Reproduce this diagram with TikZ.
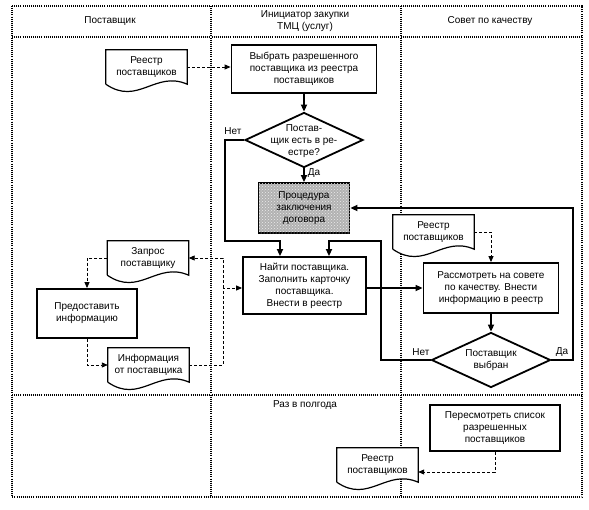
\documentclass[tikz,border=0pt]{standalone}
\usepackage{fontspec}
\setmainfont{Liberation Sans}
\usetikzlibrary{arrows.meta,shapes.geometric,patterns,calc,backgrounds}
\newcommand\docwave[1]{%
  \begin{pgfonlayer}{background}
  \draw[line width=1.2pt, fill=white] (#1.south west) -- (#1.north west) -- (#1.north east) -- (#1.south east)
    .. controls +(-32,-14) and +(32,22) .. (#1.south west);
  \end{pgfonlayer}}
\begin{document}
\begin{tikzpicture}[x=1pt,y=-1pt,
  font=\fontsize{10}{12}\selectfont,
  lane/.style={line width=1.2pt, dash pattern=on 1pt off 1.1pt},
  box/.style={draw, line width=1.8pt, align=center, inner sep=0pt, fill=white},
  dia/.style={draw, diamond, line width=1.8pt, inner sep=0pt, fill=white},
  doc/.style={align=center, inner sep=0pt, minimum width=81pt, minimum height=34pt},
  flow/.style={line width=1.6pt, -{Triangle[length=7pt,width=6pt]}},
  dflow/.style={line width=0.9pt, dash pattern=on 3pt off 2pt, -{Triangle[length=6pt,width=5pt]}},
  lbl/.style={inner sep=0pt},
]
\useasboundingbox (0,0) rectangle (589,509);
% lanes
\begin{pgfonlayer}{background}
\draw[lane] (12,6) rectangle (582,497);
\draw[lane] (12,37) -- (582,37);
\draw[lane] (12,395) -- (582,395);
\draw[lane] (211,6) -- (211,497);
\draw[lane] (401,6) -- (401,497);
\end{pgfonlayer}
% headers
\node[lbl] (h1) at (110,21) {Поставщик};
\node[lbl, align=center] (h2) at (305,21) {Инициатор закупки\\ТМЦ (услуг)};
\node[lbl] (h3) at (490,21) {Совет по качеству};
\node[lbl] (half) at (305,405) {Раз в полгода};
% documents
\node[doc] (r1) at (146.5,67) {Реестр\\поставщиков}; \docwave{r1}
\node[doc] (zq) at (148,258) {Запрос\\поставщику}; \docwave{zq}
\node[doc] (inf) at (148.5,365) {Информация\\от поставщика}; \docwave{inf}
\node[doc] (r2) at (433.5,232) {Реестр\\поставщиков}; \docwave{r2}
\node[doc] (r3) at (377.5,465) {Реестр\\поставщиков}; \docwave{r3}
% boxes
\node[box, minimum width=145pt, minimum height=48pt] (b1) at (304,69) {Выбрать разрешенного\\поставщика из реестра\\поставщиков};
\node[dia, minimum width=118pt, minimum height=55pt] (d1) at (304,140) {};
\node[lbl, align=center] (d1t) at (304,141) {Постав-\\щик есть в ре-\\естре?};
\node[box, minimum width=91pt, minimum height=50pt, fill=gray!60, postaction={pattern=crosshatch dots, pattern color=white!85!gray}] (pr) at (304,208) {Процедура\\заключения\\договора};
\node[box, minimum width=123pt, minimum height=57pt] (nf) at (304.5,285.5) {Найти поставщика.\\Заполнить карточку\\поставщика.\\Внести в реестр};
\node[box, minimum width=135pt, minimum height=50pt] (rs) at (491,288) {Рассмотреть на совете\\по качеству. Внести\\информацию в реестр};
\node[dia, minimum width=119pt, minimum height=55pt] (d2) at (491,360) {};
\node[lbl, align=center] (d2t) at (491,360) {Поставщик\\выбран};
\node[box, minimum width=100pt, minimum height=49pt] (pi) at (87,313.5) {Предоставить\\информацию};
\node[box, minimum width=130pt, minimum height=46pt] (pv) at (495,428) {Пересмотреть список\\разрешенных\\поставщиков};
% labels
\node[lbl] (n1) at (233,131) {Нет};
\node[lbl] (y1) at (314,173) {Да};
\node[lbl] (n2) at (421,352) {Нет};
\node[lbl] (y2) at (562,352) {Да};
% coordinates
\coordinate (nA) at (225,241);
\coordinate (cA) at (280,241);
\coordinate (cB) at (329,241);
\coordinate (nB) at (381,241);
\coordinate (yA) at (573,208);
\coordinate (j1) at (223,288);
% connectors
\draw[dflow] (r1.east) -- (r1.east -| b1.west);
\draw[flow] (b1.south) -- (d1.north);
\draw[flow] (d1.south) -- (pr.north);
\draw[flow] (d1.west) -| (nA) -- (cA) -- (cA |- nf.north);
\draw[flow] (d2.west) -| (nB) -- (cB) -- (cB |- nf.north);
\draw[flow] (d2.east) -| (yA) -- (pr.east);
\draw[flow] (rs.west -| nf.east) -- (rs.west);
\draw[dflow] (r2.east) -| (rs.north);
\draw[flow] (rs.south) -- (d2.north);
\draw[dflow] (inf.east) -| (j1) -- (j1 -| nf.west);
\draw[dflow] (j1) |- (zq.east);
\draw[dflow] (zq.west) -| (pi.north);
\draw[dflow] (pi.south) |- (inf.west);
\draw[dflow] (pv.south) |- ([yshift=-7pt]r3.east);
\end{tikzpicture}
\end{document}
